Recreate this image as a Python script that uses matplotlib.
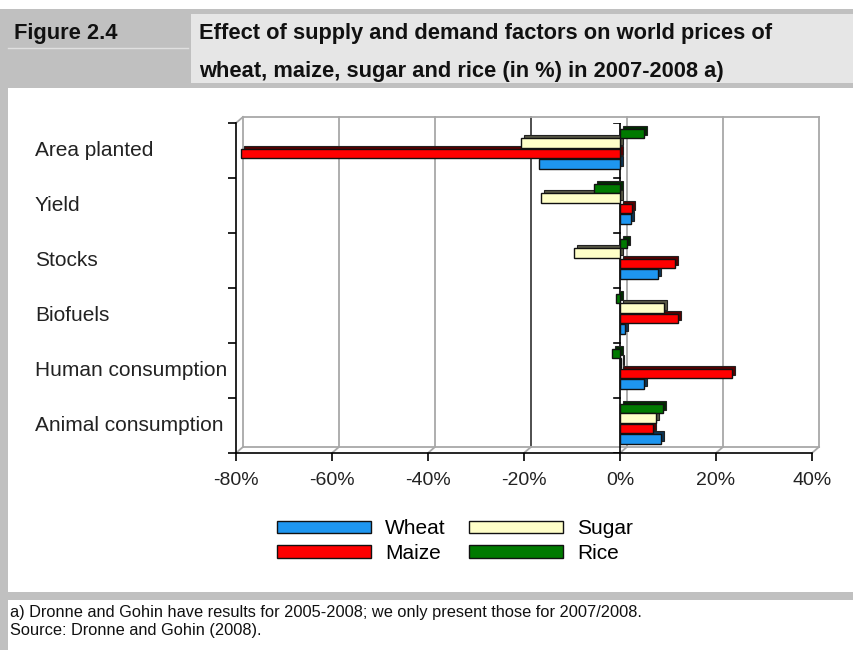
import matplotlib.pyplot as plt
import numpy as np
from matplotlib.patches import Rectangle
from matplotlib import transforms
from matplotlib import colors as mcolors

# data (in %)
categories = ['Area planted', 'Yield', 'Stocks', 'Biofuels',
              'Human consumption', 'Animal consumption']
wheat = [-16.8, 2.3, 8.0, 1.0, 5.0, 8.5]
maize = [-79.0, 2.6, 11.5, 12.0, 23.3, 6.8]
sugar = [-20.7, -16.4, -9.5, 9.2, 0.3, 7.4]
rice = [5.0, -5.5, 1.5, -0.8, -1.7, 9.0]
xticks = [-80, -60, -40, -20, 0, 20, 40]

series = [('Rice', rice, '#007a00', -0.31),
          ('Sugar', sugar, '#ffffc8', -0.13),
          ('Maize', maize, '#ff0000', 0.055),
          ('Wheat', wheat, '#1e96f0', 0.24)]

body = 'Liberation Sans'

W, H = 854, 650
fig = plt.figure(figsize=(W / 100, H / 100), dpi=100)
fig.patch.set_facecolor('white')


def box(x0, y0, x1, y1, col):
    # rectangle given in pixel coords (top-left origin)
    fig.add_artist(Rectangle((x0 / W, 1 - y1 / H), (x1 - x0) / W, (y1 - y0) / H,
                             transform=fig.transFigure, color=col, lw=0, zorder=0))


# frame / header
box(0, 9, W, 88, '#c0c0c0')
box(191, 14, W, 83, '#e6e6e6')
box(0, 9, 8, H, '#c0c0c0')
box(0, 592, W, 600, '#c0c0c0')
fig.add_artist(plt.Line2D([8 / W, 188 / W], [1 - 48 / H, 1 - 48 / H],
                          transform=fig.transFigure, color='#e0e0e0', lw=1))

t1 = fig.text(14 / W, 1 - 33 / H, 'Figure 2.4', weight='bold', fontsize=15,
              va='center', ha='left', color='#111111', family=body)
t2 = fig.text(199 / W, 1 - 33 / H,
              'Effect of supply and demand factors on world prices of',
              weight='bold', fontsize=15, va='center', ha='left', color='#111111', family=body)
t3 = fig.text(199 / W, 1 - 72 / H,
              'wheat, maize, sugar and rice (in %) in 2007-2008 a)',
              weight='bold', fontsize=15, va='center', ha='left', color='#111111', family=body)
n1 = fig.text(10 / W, 1 - 612 / H,
              'a) Dronne and Gohin have results for 2005-2008; we only present those for 2007/2008.',
              fontsize=12, va='center', ha='left', color='#111111', family=body)
n2 = fig.text(10 / W, 1 - 631 / H, 'Source: Dronne and Gohin (2008).',
              fontsize=12, va='center', ha='left', color='#111111', family=body)

# scale header / note sizes to the widths seen in the original
renderer = fig.canvas.get_renderer()
w2 = t2.get_window_extent(renderer).width
for t in (t1, t2, t3):
    t.set_fontsize(15 * 576 / w2)
wn = n1.get_window_extent(renderer).width
for t in (n1, n2):
    t.set_fontsize(12 * 630 / wn)

# chart
ax = fig.add_axes([236 / W, 1 - 453 / H, (812 - 236) / W, (453 - 123) / H])
ax.set_facecolor('none')
ax.set_xlim(-80, 40)
ax.set_ylim(5.5, -0.5)

dx, dy = 1.45, 0.11   # depth of the 3D box in data units
grey = '#a8a8a8'
for x in xticks:
    c = '#404040' if x == -20 else grey
    ax.plot([x + dx, x + dx], [5.5 - dy, -0.5 - dy], color=c, lw=1.3, clip_on=False, zorder=1)
    ax.plot([x, x + dx], [5.5, 5.5 - dy], color=grey, lw=1.3, clip_on=False, zorder=1)
ax.plot([-80 + dx, 40 + dx], [-0.5 - dy, -0.5 - dy], color=grey, lw=1.3, clip_on=False, zorder=1)
ax.plot([-80 + dx, 40 + dx], [5.5 - dy, 5.5 - dy], color=grey, lw=1.3, clip_on=False, zorder=1)
ax.plot([-80, -80 + dx], [-0.5, -0.5 - dy], color=grey, lw=1.3, clip_on=False, zorder=1)

# zero axis with its ticks
ax.plot([0, 0], [-0.5, 5.5], color='black', lw=1.2, zorder=2)
for b in np.arange(-0.5, 6.0, 1.0):
    ax.plot([-1.3, 0], [b, b], color='black', lw=1.2, zorder=2)

ypos = np.arange(len(categories))
shift = transforms.ScaledTranslation(3 / 100, 3 / 100, fig.dpi_scale_trans)
for name, vals, col, off in series:
    dark = np.array(mcolors.to_rgb(col)) * 0.35
    ax.barh(ypos + off, vals, height=0.18, color=dark, edgecolor='#222222', lw=0.8,
            transform=ax.transData + shift, zorder=3)
    ax.barh(ypos + off, vals, height=0.18, color=col, edgecolor='#111111', lw=1.0,
            zorder=4, label=name)

ax.spines['top'].set_visible(False)
ax.spines['right'].set_visible(False)
ax.spines['left'].set_linewidth(1.2)
ax.spines['bottom'].set_linewidth(1.2)

ax.set_xticks(xticks)
ax.set_xticklabels([f'{x}%' for x in xticks], fontsize=14, color='#222222', family=body)
ax.tick_params(axis='x', length=6, width=1.2, pad=8)
ax.set_yticks(np.arange(-0.5, 6.0, 1.0))
ax.set_yticklabels([])
ax.tick_params(axis='y', length=6, width=1.2)

lab_tr = transforms.blended_transform_factory(fig.transFigure, ax.transData)
for i, cat in enumerate(categories):
    ax.text(35 / W, i, cat, transform=lab_tr, family=body,
            fontsize=15, va='center', ha='left', color='#222222')

handles, labels = ax.get_legend_handles_labels()
order = [3, 2, 1, 0]  # Wheat, Maize, Sugar, Rice
fig.legend([handles[k] for k in order], [labels[k] for k in order], ncol=2,
           loc='center', bbox_to_anchor=(455 / W, 1 - 541 / H), frameon=False,
           prop={'family': body, 'size': 15}, handlelength=4.5, handleheight=0.55,
           handletextpad=0.7, columnspacing=1.1, labelspacing=0.25)

plt.savefig('out.png', dpi=100)
